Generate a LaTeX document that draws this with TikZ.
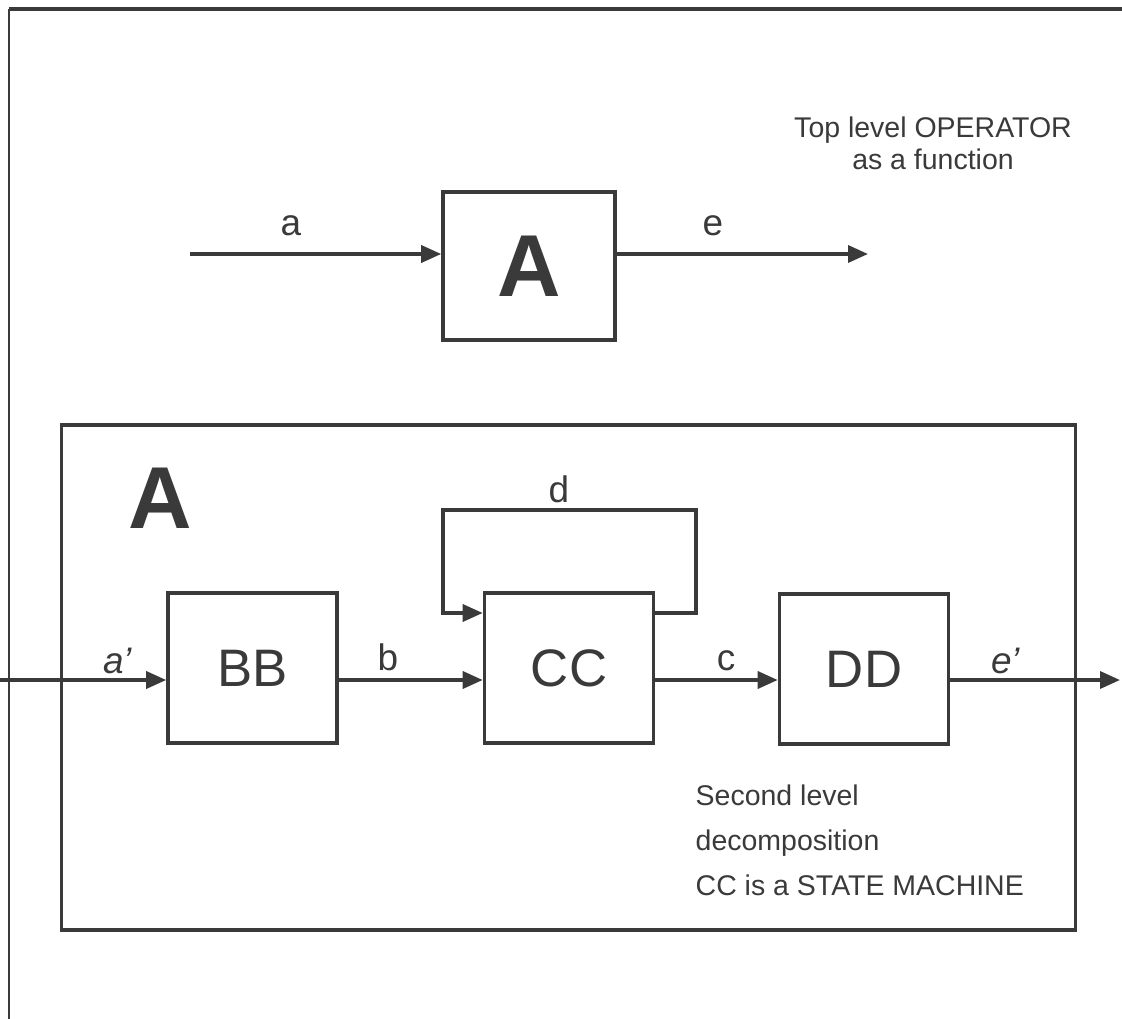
\documentclass[tikz,border=0pt]{standalone}
\usepackage{fontspec}
\setmainfont{Liberation Sans}
\usetikzlibrary{arrows.meta,positioning}
\definecolor{ink}{RGB}{58,58,58}
\tikzset{
  blk/.style={draw=ink, line width=1pt, minimum width=1.69cm, minimum height=1.50cm,
              inner sep=0pt, text=ink, font=\fontsize{15}{18}\selectfont},
  flowarr/.style={-{Triangle[length=2mm,width=1.7mm]}, ink, line width=1pt},
  wire/.style={ink, line width=1pt},
  lbl/.style={text=ink, font=\fontsize{10.5}{12}\selectfont, inner sep=0pt},
  bigl/.style={text=ink, font=\fontsize{25}{30}\selectfont\bfseries, inner sep=0pt},
  note/.style={text=ink, font=\fontsize{8.1}{12.8}\selectfont, inner sep=0pt},
}

\begin{document}
\begin{tikzpicture}[x=0.01cm, y=-0.01cm]
  \useasboundingbox (0,0) rectangle (1122,1019);
  % edge of the scanned page
  \coordinate (pgtl) at (9,9);
  \coordinate (pgtr) at (1122,9);
  \coordinate (pgbl) at (9,1019);
  \draw[wire, line width=1.3pt] (pgtl) -- (pgtr);
  \draw[wire, line width=0.7pt] (pgtl) -- (pgbl);

  % top level: A as one function
  \node[blk, minimum width=1.72cm, minimum height=1.48cm,
        font=\fontsize{25}{30}\selectfont\bfseries] (topA) at (529,266) {A};
  \coordinate (ain) at (190,254);
  \coordinate (eout) at (868,254);
  \draw[flowarr] (ain) -- (ain -| topA.west);
  \draw[flowarr] (eout -| topA.east) -- (eout);
  \node[lbl] (la) at (291,226) {a};
  \node[lbl] (le) at (713,226) {e};
  \node[note, font=\fontsize{8.1}{9.1}\selectfont, align=center, anchor=north]
       (toptxt) at (933,116) {Top level OPERATOR\\as a function};

  % second level: inside of A
  \node[draw=ink, line width=1pt, minimum width=10.13cm, minimum height=5.05cm,
        inner sep=0pt] (opA) at (568.5,677.5) {};
  \node[bigl] (opAl) at (160,498) {A};
  \node[blk] (BB) at (252.5,668) {BB};
  \node[blk] (CC) at (569,668) {CC};
  \node[blk] (DD) at (864,669) {DD};

  \coordinate (rin) at (0,680);
  \coordinate (rout) at (1120,680);
  \draw[flowarr] (rin) -- (rin -| BB.west);
  \draw[flowarr] (BB.east |- rin) -- (CC.west |- rin);
  \draw[flowarr] (CC.east |- rin) -- (DD.west |- rin);
  \draw[flowarr] (DD.east |- rin) -- (rout);
  \node[lbl] (la2) at (118,661) {\textit{a'}};
  \node[lbl] (lb) at (388,657) {b};
  \node[lbl] (lc) at (726,661) {c};
  \node[lbl] (le2) at (1006,661) {\textit{e'}};

  % feedback d round CC
  \coordinate (fby) at (0,613);
  \coordinate (fbr) at (696,510);
  \coordinate (fbl) at (443,510);
  \draw[flowarr] (CC.east |- fby) -| (fbr) -- (fbl) |- (CC.west |- fby);
  \node[lbl] (ld) at (559,489) {d};

  \node[note, align=left, anchor=north west] (bottxt) at (695,784)
       {Second level\\decomposition\\CC is a STATE MACHINE};
\end{tikzpicture}
\end{document}
